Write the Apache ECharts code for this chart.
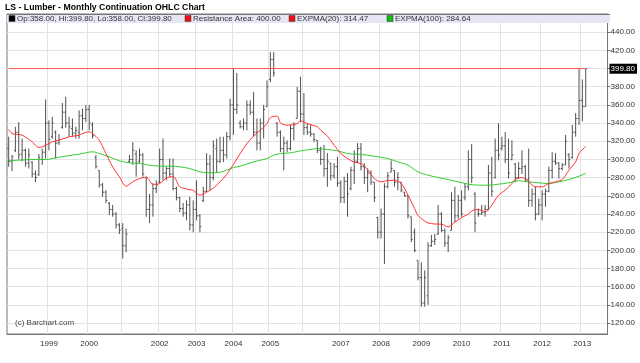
<!DOCTYPE html>
<html><head><meta charset="utf-8">
<script src="https://cdn.jsdelivr.net/npm/echarts@6/dist/echarts.min.js"></script>
<style>html,body{margin:0;padding:0;background:#fff}#c{width:640px;height:363px}</style>
</head><body><div id="c"></div>
<script>
// ---- data ----
const years = [1998,1999,2000,2001,2002,2003,2004,2005,2006,2007,2008,2009,2010,2011,2012,2013];
const barsPerYear = [12,12,10,11,11,11,11,10,11,12,12,12,12,12,12,2];
const padMonths = 6;
const hiddenYearLabels = [1998, 2001, 2006];
const opens = [
 312,298,310,330,306,310,296,297,284,283,300,308,
 340,325,330,318,335,352,340,334,329,330,348,345,
 355,338,302,288,272,264,252,245,240,228,
 224,205,298,300,306,298,305,280,245,250,268,
 275,300,285,290,284,268,258,246,241,250,228,
 245,238,255,265,295,280,312,298,310,305,325,
 360,355,340,336,340,360,352,330,318,340,358,
 388,410,340,330,312,318,312,334,345,375,
 350,335,330,328,321,310,300,290,296,282,292,
 274,258,276,268,288,298,312,292,280,285,275,236,
 220,240,270,286,288,275,275,264,260,237,220,189,
 170,142,150,205,210,218,240,222,208,222,255,238,
 255,258,270,300,262,240,240,242,245,285,280,310,
 312,315,300,300,295,280,290,292,278,255,262,240,
 250,262,265,288,298,296,290,294,305,302,330,345,
 365,358];
const highs = [
 325,305,336,341,323,312,312,298,288,306,312,366,
 343,347,332,328,362,369,347,345,336,354,356,360,
 360,341,305,288,274,266,253,250,242,230,
 230,224,305,319,310,312,307,281,262,274,277,
 312,323,292,301,301,270,259,252,255,259,255,
 277,240,270,307,305,321,323,325,325,330,367,
 400,395,343,345,365,365,374,345,345,360,387,
 418,418,341,332,325,321,338,341,380,391,
 373,340,338,329,321,314,316,307,296,296,303,
 277,281,285,292,310,318,318,296,290,288,275,237,
 246,274,286,299,288,286,275,264,261,237,224,189,
 187,178,209,217,218,250,242,224,217,264,270,261,
 266,274,310,317,264,246,250,250,294,303,323,340,
 325,330,323,321,296,297,310,294,312,268,270,257,
 266,268,292,308,307,297,296,327,307,338,351,400,
 388,399.8];
const lows = [
 292,287,308,300,298,292,290,280,275,282,294,301,
 310,323,301,316,334,335,325,325,323,323,332,341,
 332,323,290,269,259,252,239,237,224,218,
 191,198,296,294,281,296,281,237,230,237,263,
 274,277,277,281,266,255,242,237,233,222,220,
 233,220,253,264,266,277,285,296,297,301,321,
 327,350,334,332,332,349,325,310,310,323,358,
 385,391,325,308,288,308,310,321,345,341,
 327,327,325,319,307,294,281,270,277,279,270,
 252,252,237,266,273,296,288,273,264,272,253,213,
 213,185,268,286,270,266,264,259,235,209,198,167,
 138,138,140,204,206,217,220,204,198,222,231,235,
 237,255,266,274,220,237,239,237,244,259,279,299,
 310,296,279,299,275,279,284,275,248,248,233,239,
 233,248,264,279,294,279,288,294,290,301,325,338,
 342,358];
const closes = [
 298,303,330,305,310,296,305,284,280,302,308,340,
 322,340,318,322,352,340,336,329,332,348,345,355,
 340,326,292,272,264,255,245,240,228,222,
 205,218,300,310,296,305,284,245,250,268,272,
 300,285,290,284,268,258,246,241,250,228,245,
 238,226,265,295,280,315,298,310,305,325,360,
 355,360,336,340,360,352,330,318,340,355,380,
 410,395,330,312,318,312,334,338,375,350,
 335,330,328,322,310,300,290,298,282,292,274,
 258,276,262,288,298,312,292,280,285,275,258,220,
 240,270,282,290,275,280,266,260,238,212,200,170,
 142,170,205,210,212,240,222,208,214,255,238,255,
 240,270,300,280,230,240,242,245,285,265,310,305,
 315,300,285,305,280,290,292,278,255,262,240,250,
 262,265,288,298,296,290,294,320,300,330,345,365,
 358,399.8];
// EXPMA readings: [bar index, value]
const emaFast = [[0,332.9],[1,328.5],[4,326.7],[7,319.4],[9,313.1],[10,313.9],[12,317.5],[13,319.4],[15,321.2],[18,324.9],[21,326.7],[22,328.5],[24,330.4],[25,328.5],[27,321.2],[29,306.5],[31,291.9],[33,280.9],[35,270.6],[37,275.4],[39,279],[41,280.5],[43,272.6],[45,273.5],[47,279.4],[49,281.2],[51,270],[53,267.5],[55,266],[57,260.7],[59,264],[61,268.5],[63,275.3],[65,283.6],[67,294.6],[69,306.5],[71,317.5],[73,325.6],[75,332.2],[77,339.5],[78,346.1],[80,347.6],[81,340.3],[83,337.7],[86,339.5],[87,342.5],[89,339.5],[92,335.9],[93,332.2],[95,325.6],[97,315.7],[99,306.5],[101,301],[103,297],[105,295.5],[107,289],[109,279],[111,275.4],[113,276.8],[115,277.2],[117,273.5],[119,261],[121,246],[122,238.5],[124,232.3],[125,230.2],[127,229],[129,228.8],[131,225.8],[133,231],[135,236],[137,240],[139,244.9],[141,244.2],[142,242.3],[144,249.7],[146,260.7],[148,266.2],[150,273.5],[151,277.9],[153,280.1],[155,275.4],[157,269.9],[159,269.9],[161,273.5],[163,275.4],[165,277.9],[167,288.2],[169,297.4],[170,306.5],[172,314.47]];
const emaSlow = [[0,298.5],[3,299.2],[7,299.9],[11,299.9],[14,301.8],[17,303.6],[21,305.8],[25,308.4],[27,306.5],[30,302.9],[33,298.5],[36,296.3],[39,295.6],[42,293.7],[45,292.6],[48,292.6],[51,291.9],[54,290],[57,286.4],[60,285.3],[63,286],[65,288.2],[67,291.1],[69,292.6],[73,297.4],[77,301],[79,304.7],[81,306.5],[84,307.3],[87,309.5],[90,310.9],[92,312],[95,310.9],[98,309.5],[101,306.5],[104,305.8],[107,304.7],[110,302.9],[113,301],[116,297.4],[119,293.7],[122,286.4],[125,282.7],[128,280.1],[131,277.9],[134,275.4],[137,272.8],[140,271.7],[143,271.7],[146,272.8],[149,274.3],[152,276.5],[155,275.4],[158,274.3],[161,273.5],[164,275.4],[167,277.9],[170,281.6],[172,284.64]];
const resistance = 400;
const yTicks = [120,140,160,180,200,220,240,260,280,300,320,340,360,380,400,420,440];

// ---- build ----
const cats = [];
years.forEach((y, i) => { for (let m = 1; m <= barsPerYear[i]; m++) cats.push(y + '-' + String(m).padStart(2, '0')); });
for (let m = 1; m <= padMonths; m++) cats.push('2013-' + String(barsPerYear[barsPerYear.length - 1] + m).padStart(2, '0'));
const nBars = opens.length;
const last = nBars - 1;
const ohlc = opens.map((o, k) => [k, o, highs[k], lows[k], closes[k]]);
const FONT = "'Liberation Sans', Arial, sans-serif";

function renderOHLC(params, api) {
  const k = api.value(0);
  const pO = api.coord([k, api.value(1)]);
  const pH = api.coord([k, api.value(2)]);
  const pL = api.coord([k, api.value(3)]);
  const pC = api.coord([k, api.value(4)]);
  const x = pH[0];
  const w = 1.4;
  const style = { stroke: '#505050', lineWidth: 1 };
  return { type: 'group', children: [
    { type: 'line', shape: { x1: x, y1: pH[1], x2: x, y2: pL[1] }, style },
    { type: 'line', shape: { x1: x - w, y1: pO[1], x2: x, y2: pO[1] }, style },
    { type: 'line', shape: { x1: x, y1: pC[1], x2: x + w, y2: pC[1] }, style }
  ]};
}

const legendText = 'Op:' + opens[last].toFixed(2) + ', Hi:' + highs[last].toFixed(2) + ', Lo:' + lows[last].toFixed(2) + ', Cl:' + closes[last].toFixed(2);
const legendItems = [
  { x: 9, color: '#000', text: legendText },
  { x: 185, color: '#ee1111', text: 'Resistance Area: ' + resistance.toFixed(2) },
  { x: 289, color: '#ee1111', text: 'EXPMA(20): ' + emaFast[emaFast.length - 1][1].toFixed(2) },
  { x: 387, color: '#11bb11', text: 'EXPMA(100): ' + emaSlow[emaSlow.length - 1][1].toFixed(2) }
];
const graphics = [
  { type: 'text', left: 5, top: 3, z: 100, style: { text: 'LS - Lumber - Monthly Continuation OHLC Chart', font: "bold 8.7px 'Liberation Sans', Arial, sans-serif", fill: '#000' } },
  { type: 'rect', shape: { x: 7, y: 14, width: 603, height: 9 }, z: 100, style: { fill: '#e6e6f7', stroke: null } },
  { type: 'line', shape: { x1: 7, y1: 14.5, x2: 610, y2: 14.5 }, z: 101, style: { stroke: '#777', lineWidth: 1 } },
  { type: 'text', left: 15, top: 319, z: 100, style: { text: '(c) Barchart.com', font: '8px ' + FONT, fill: '#444' } }
];
legendItems.forEach(it => {
  graphics.push({ type: 'rect', shape: { x: it.x, y: 15.5, width: 6, height: 6 }, z: 102, style: { fill: it.color, stroke: '#333', lineWidth: 0.5 } });
  graphics.push({ type: 'text', left: it.x + 8, top: 14.5, z: 102, style: { text: it.text, font: '8px ' + FONT, fill: '#333' } });
});

const yBase = { type: 'value', position: 'right', min: 108, max: 460, scale: true };
const chart = echarts.init(document.getElementById('c'), null, { renderer: 'canvas' });
chart.setOption({
  animation: false,
  backgroundColor: '#fff',
  grid: { left: 7, right: 30, top: 14, bottom: 29, show: true, borderColor: '#777', borderWidth: 1 },
  xAxis: {
    type: 'category', data: cats, boundaryGap: true,
    axisLine: { show: true, lineStyle: { color: '#777' } },
    axisTick: { show: false },
    axisLabel: {
      interval: (i, v) => v.endsWith('-01') && hiddenYearLabels.indexOf(+v.slice(0, 4)) < 0,
      formatter: v => v.slice(0, 4), fontSize: 8, color: '#333', margin: 6, fontFamily: FONT
    },
    splitLine: { show: true, interval: (i, v) => i > 0 && v.endsWith('-01'), lineStyle: { color: '#e2e2e2' } }
  },
  yAxis: [
    Object.assign({}, yBase, {
      axisLine: { show: true, lineStyle: { color: '#777' } },
      axisTick: { show: true, length: 3, lineStyle: { color: '#777' }, customValues: yTicks },
      axisLabel: { customValues: yTicks, formatter: v => v.toFixed(2), fontSize: 8, color: '#333', margin: 3, fontFamily: FONT },
      splitLine: { show: true, lineStyle: { color: '#e2e2e2' } }
    }),
    Object.assign({}, yBase, {
      z: 10,
      axisLine: { show: false }, axisTick: { show: false }, splitLine: { show: false },
      axisLabel: { customValues: [closes[last]], formatter: v => v.toFixed(2), fontSize: 8, color: '#fff', backgroundColor: '#000', padding: [1, 2, 1, 1], margin: 2, fontFamily: FONT }
    })
  ],
  series: [
    { type: 'custom', name: 'OHLC', renderItem: renderOHLC, data: ohlc, encode: { x: 0, y: [1, 2, 3, 4] }, z: 3 },
    { type: 'line', name: 'EXPMA(100)', data: emaSlow, smooth: 0.3, showSymbol: false, symbol: 'none', lineStyle: { color: '#33cc33', width: 1 }, z: 4 },
    { type: 'line', name: 'EXPMA(20)', data: emaFast, smooth: 0.3, showSymbol: false, symbol: 'none', lineStyle: { color: '#ff3333', width: 1 }, z: 5 },
    { type: 'line', name: 'Resistance', data: [[0, resistance], [last, resistance]], showSymbol: false, symbol: 'none', lineStyle: { color: '#ff5555', width: 1 }, z: 5 }
  ],
  graphic: graphics
});
</script></body></html>
